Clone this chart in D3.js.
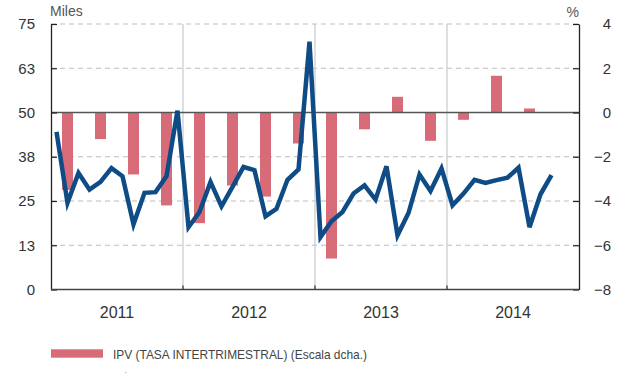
<!DOCTYPE html>
<html>
<head>
<meta charset="utf-8">
<script src="https://cdn.jsdelivr.net/npm/d3@7"></script>
<style>
  html, body { margin: 0; padding: 0; background: #fff; }
  svg { display: block; }
  text { font-family: "Liberation Sans", Arial, Helvetica, sans-serif; }
</style>
</head>
<body>
<svg id="chart" width="621" height="373"></svg>
<script>
// Monthly transactions (thousands), Jan 2011 – Oct 2014, left scale
const months = d3.range(46);
const transactions = [
  44.5, 24.5, 32.9, 28.2, 30.4, 34.3, 32.0, 18.4, 27.3, 27.5, 32.0, 50.5,
  17.6, 21.9, 30.4, 23.5, 29.0, 34.6, 33.7, 20.7, 22.8, 31.0, 33.9, 70.0,
  14.8, 19.3, 21.9, 27.1, 29.4, 25.4, 34.8, 15.3, 21.6, 32.5, 27.8, 34.2,
  23.8, 27.1, 31.0, 30.1, 30.9, 31.6, 34.4, 17.6, 26.9, 32.3
];

// Quarterly house price index change (%), right scale
const quarters = d3.range(15);
const ipvChange = [
  -3.5, -1.2, -2.8, -4.2,
  -5.0, -3.3, -3.8, -1.4,
  -6.6, -0.76, 0.71, -1.28,
  -0.33, 1.66, 0.18
];

const years = ["2011", "2012", "2013", "2014"];
const leftTicks = [0, 12.5, 25, 37.5, 50, 62.5, 75];
const leftTickLabels = ["0", "13", "25", "38", "50", "63", "75"];
const rightTicks = [-8, -6, -4, -2, 0, 2, 4];

const legendBars = "IPV (TASA INTERTRIMESTRAL) (Escala dcha.)";
const legendLine = "NÚMERO DE COMPRAVENTAS (Escala izda.)";

const plot = { left: 51, right: 579, top: 24, bottom: 289.5 };

const svg = d3.select("#chart");

const x = d3.scaleLinear().domain([0, 48]).range([plot.left, plot.right]);
const yL = d3.scaleLinear().domain([0, 75]).range([plot.bottom, plot.top]);
const yR = d3.scaleLinear().domain([-8, 4]).range([plot.bottom, plot.top]);

// Dashed horizontal gridlines
svg.append("g")
  .selectAll("line")
  .data(leftTicks.filter(d => d !== 0 && d !== 50))
  .join("line")
  .attr("x1", plot.left).attr("x2", plot.right)
  .attr("y1", d => yL(d)).attr("y2", d => yL(d))
  .attr("stroke", "#bdbdbd")
  .attr("stroke-width", 1)
  .attr("stroke-dasharray", "5,4");

// Year separators
svg.append("g")
  .selectAll("line")
  .data([12, 24, 36])
  .join("line")
  .attr("x1", d => x(d)).attr("x2", d => x(d))
  .attr("y1", plot.top).attr("y2", plot.bottom)
  .attr("stroke", "#c9c9c9")
  .attr("stroke-width", 1.2);

// Quarterly bars, one month wide, in the middle month of each quarter
svg.append("g")
  .selectAll("rect")
  .data(quarters)
  .join("rect")
  .attr("x", q => x(q * 3 + 1))
  .attr("width", q => x(q * 3 + 2) - x(q * 3 + 1))
  .attr("y", q => yR(Math.max(0, ipvChange[q])))
  .attr("height", q => Math.abs(yR(ipvChange[q]) - yR(0)))
  .attr("fill", "#d86b78");

// Zero line of the percentage scale
svg.append("line")
  .attr("x1", plot.left).attr("x2", plot.right)
  .attr("y1", yR(0)).attr("y2", yR(0))
  .attr("stroke", "#555")
  .attr("stroke-width", 1.4);

// Axes
const leftAxis = d3.axisLeft(yL)
  .tickValues(leftTicks)
  .tickFormat((d, i) => leftTickLabels[i])
  .tickSizeInner(-6).tickSizeOuter(0).tickPadding(16);
const rightAxis = d3.axisRight(yR)
  .tickValues(rightTicks)
  .tickFormat(d3.format("d"))
  .tickSizeInner(-6).tickSizeOuter(0).tickPadding(32);

const gL = svg.append("g").attr("transform", `translate(${plot.left},0)`).call(leftAxis);
const gR = svg.append("g").attr("transform", `translate(${plot.right},0)`).call(rightAxis);
[gL, gR].forEach(g => {
  g.select(".domain").attr("stroke", "#222").attr("stroke-width", 1.3);
  g.selectAll(".tick line").attr("stroke", "#222").attr("stroke-width", 1.2);
  g.selectAll(".tick text")
    .attr("font-size", 15)
    .attr("fill", "#333")
    .style("font-family", "'Liberation Sans', Arial, sans-serif");
});
gR.selectAll(".tick text").attr("text-anchor", "end");

// Bottom axis
svg.append("line")
  .attr("x1", plot.left).attr("x2", plot.right)
  .attr("y1", plot.bottom).attr("y2", plot.bottom)
  .attr("stroke", "#444")
  .attr("stroke-width", 1.4);
svg.append("g")
  .selectAll("line")
  .data([12, 24, 36])
  .join("line")
  .attr("x1", d => x(d)).attr("x2", d => x(d))
  .attr("y1", plot.bottom - 4).attr("y2", plot.bottom)
  .attr("stroke", "#333")
  .attr("stroke-width", 1.2);

svg.append("g")
  .selectAll("text")
  .data(years)
  .join("text")
  .attr("x", (d, i) => x(i * 12 + 6))
  .attr("y", 318)
  .attr("text-anchor", "middle")
  .attr("font-size", 16)
  .attr("fill", "#333")
  .text(d => d);

// Axis titles
svg.append("text")
  .attr("x", 50).attr("y", 16)
  .attr("font-size", 14)
  .attr("fill", "#555")
  .text("Miles");
svg.append("text")
  .attr("x", 579).attr("y", 17)
  .attr("text-anchor", "end")
  .attr("font-size", 14)
  .attr("fill", "#555")
  .text("%");

// Monthly transactions line
const line = d3.line()
  .x(i => x(i + 0.5))
  .y(i => yL(transactions[i]));

svg.append("path")
  .datum(months)
  .attr("d", line)
  .attr("fill", "none")
  .attr("stroke", "#0f4c86")
  .attr("stroke-width", 4.5)
  .attr("stroke-linejoin", "miter")
  .attr("stroke-miterlimit", 4);

// Legend (the second entry continues below the visible area)
svg.append("rect")
  .attr("x", 51).attr("y", 349.3)
  .attr("width", 52).attr("height", 8.4)
  .attr("fill", "#d86b78");
svg.append("text")
  .attr("x", 113).attr("y", 358.5)
  .attr("font-size", 13)
  .attr("fill", "#444")
  .attr("textLength", 254)
  .attr("lengthAdjust", "spacingAndGlyphs")
  .text(legendBars);

svg.append("line")
  .attr("x1", 51).attr("x2", 103)
  .attr("y1", 380).attr("y2", 380)
  .attr("stroke", "#0f4c86")
  .attr("stroke-width", 4);
svg.append("text")
  .attr("x", 113).attr("y", 383.5)
  .attr("font-size", 13)
  .attr("fill", "#444")
  .attr("textLength", 230)
  .attr("lengthAdjust", "spacingAndGlyphs")
  .text(legendLine);
</script>
</body>
</html>
